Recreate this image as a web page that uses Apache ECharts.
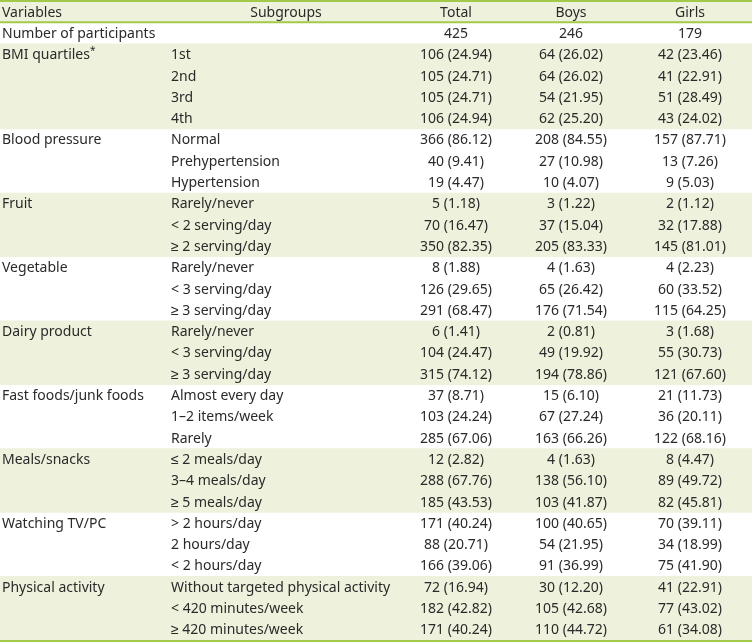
<!DOCTYPE html>
<html>
<head>
<meta charset="utf-8">
<script src="https://cdn.jsdelivr.net/npm/echarts@6/dist/echarts.min.js"></script>
<style>
html,body{margin:0;padding:0;background:#fff;}
#chart{width:752px;height:644px;}
</style>
</head>
<body>
<div id="chart"></div>
<script>
// ---- data ----
const headers = ["Variables", "Subgroups", "Total", "Boys", "Girls"];
const variables = ["Number of participants", "BMI quartiles", "Blood pressure", "Fruit", "Vegetable",
  "Dairy product", "Fast foods/junk foods", "Meals/snacks", "Watching TV/PC", "Physical activity"];
const variableMarks = ["", "*", "", "", "", "", "", "", "", ""];
const subgroups = [
  [""],
  ["1st", "2nd", "3rd", "4th"],
  ["Normal", "Prehypertension", "Hypertension"],
  ["Rarely/never", "< 2 serving/day", "≥ 2 serving/day"],
  ["Rarely/never", "< 3 serving/day", "≥ 3 serving/day"],
  ["Rarely/never", "< 3 serving/day", "≥ 3 serving/day"],
  ["Almost every day", "1–2 items/week", "Rarely"],
  ["≤ 2 meals/day", "3–4 meals/day", "≥ 5 meals/day"],
  ["> 2 hours/day", "2 hours/day", "< 2 hours/day"],
  ["Without targeted physical activity", "< 420 minutes/week", "≥ 420 minutes/week"]
];
const totalN = [425, 106, 105, 105, 106, 366, 40, 19, 5, 70, 350, 8, 126, 291, 6, 104, 315, 37, 103, 285, 12, 288, 185, 171, 88, 166, 72, 182, 171];
const totalPct = [null, 24.94, 24.71, 24.71, 24.94, 86.12, 9.41, 4.47, 1.18, 16.47, 82.35, 1.88, 29.65, 68.47, 1.41, 24.47, 74.12, 8.71, 24.24, 67.06, 2.82, 67.76, 43.53, 40.24, 20.71, 39.06, 16.94, 42.82, 40.24];
const boysN = [246, 64, 64, 54, 62, 208, 27, 10, 3, 37, 205, 4, 65, 176, 2, 49, 194, 15, 67, 163, 4, 138, 103, 100, 54, 91, 30, 105, 110];
const boysPct = [null, 26.02, 26.02, 21.95, 25.20, 84.55, 10.98, 4.07, 1.22, 15.04, 83.33, 1.63, 26.42, 71.54, 0.81, 19.92, 78.86, 6.10, 27.24, 66.26, 1.63, 56.10, 41.87, 40.65, 21.95, 36.99, 12.20, 42.68, 44.72];
const girlsN = [179, 42, 41, 51, 43, 157, 13, 9, 2, 32, 145, 4, 60, 115, 3, 55, 121, 21, 36, 122, 8, 89, 82, 70, 34, 75, 41, 77, 61];
const girlsPct = [null, 23.46, 22.91, 28.49, 24.02, 87.71, 7.26, 5.03, 1.12, 17.88, 81.01, 2.23, 33.52, 64.25, 1.68, 30.73, 67.60, 11.73, 20.11, 68.16, 4.47, 49.72, 45.81, 39.11, 18.99, 41.90, 22.91, 43.02, 34.08];

// ---- build table rows ----
function cell(n, p) { return p == null ? String(n) : n + ' (' + p.toFixed(2) + ')'; }
const rows = [];
rows.push({kind: 'header'});
let k = 0;
variables.forEach(function (v, gi) {
  subgroups[gi].forEach(function (s, si) {
    rows.push({kind: 'body', group: gi, first: si === 0, variable: v, mark: variableMarks[gi], sub: s,
      total: cell(totalN[k], totalPct[k]), boys: cell(boysN[k], boysPct[k]), girls: cell(girlsN[k], girlsPct[k])});
    k++;
  });
});
const rowCats = rows.map(function (r, i) { return 'r' + i; });

// ---- layout / style ----
const FONT = '"Noto Sans", sans-serif';
const FS = 14;
const TXT = '#2a2a2a';
const BAND = '#eef2dc';
const LINE = '#a3c94a';
const TEXT_DY = 1;
const colX = {variable: 2, sub: 171, subHead: 286, total: 456, boys: 571, girls: 690};

const chart = echarts.init(document.getElementById('chart'), null, {renderer: 'canvas'});

function txt(x, y, text, align, rich) {
  return {type: 'text', x: x, y: y + TEXT_DY,
    style: {text: text, x: 0, y: 0, align: align, verticalAlign: 'middle', fill: TXT,
      font: FS + 'px ' + FONT, rich: rich}};
}

chart.setOption({
  animation: false,
  grid: {left: 0, right: 0, top: 1, height: 639, containLabel: false},
  xAxis: {type: 'value', min: 0, max: 752, show: false},
  yAxis: {type: 'category', data: rowCats, inverse: true, show: false},
  series: [{
    type: 'custom',
    coordinateSystem: 'cartesian2d',
    data: rows.map(function (r, i) { return [0, i]; }),
    clip: false,
    renderItem: function (params, api) {
      const i = api.value(1);
      const r = rows[i];
      const c = api.coord([0, i]);
      const h = api.size([0, 1])[1];
      const yc = c[1];
      const top = yc - h / 2;
      const left = api.coord([0, i])[0];
      const right = api.coord([752, i])[0];
      const X = function (v) { return api.coord([v, i])[0]; };
      const children = [];
      if (r.kind === 'header') {
        children.push({type: 'rect', shape: {x: left, y: top, width: right - left, height: h}, style: {fill: BAND}});
        children.push({type: 'line', shape: {x1: left, y1: top, x2: right, y2: top}, style: {stroke: LINE, lineWidth: 2}});
        children.push({type: 'line', shape: {x1: left, y1: top + h, x2: right, y2: top + h}, style: {stroke: LINE, lineWidth: 2}});
        children.push(txt(X(colX.variable), yc, headers[0], 'left'));
        children.push(txt(X(colX.subHead), yc, headers[1], 'center'));
        children.push(txt(X(colX.total), yc, headers[2], 'center'));
        children.push(txt(X(colX.boys), yc, headers[3], 'center'));
        children.push(txt(X(colX.girls), yc, headers[4], 'center'));
      } else {
        if (r.group % 2 === 1) {
          children.push({type: 'rect', shape: {x: left, y: top, width: right - left, height: h + 0.5}, style: {fill: BAND}});
        }
        if (r.first) {
          if (r.mark) {
            children.push(txt(X(colX.variable), yc, r.variable + '{s|' + r.mark + '}', 'left',
              {s: {fontSize: 10, fontFamily: FONT, fill: TXT, verticalAlign: 'top', padding: [0, 0, 8, 0]}}));
          } else {
            children.push(txt(X(colX.variable), yc, r.variable, 'left'));
          }
        }
        if (r.sub) children.push(txt(X(colX.sub), yc, r.sub, 'left'));
        children.push(txt(X(colX.total), yc, r.total, 'center'));
        children.push(txt(X(colX.boys), yc, r.boys, 'center'));
        children.push(txt(X(colX.girls), yc, r.girls, 'center'));
        if (i === rows.length - 1) {
          children.push({type: 'line', shape: {x1: left, y1: top + h + 1, x2: right, y2: top + h + 1}, style: {stroke: LINE, lineWidth: 2}});
        }
      }
      return {type: 'group', children: children};
    }
  }]
});
</script>
</body>
</html>
